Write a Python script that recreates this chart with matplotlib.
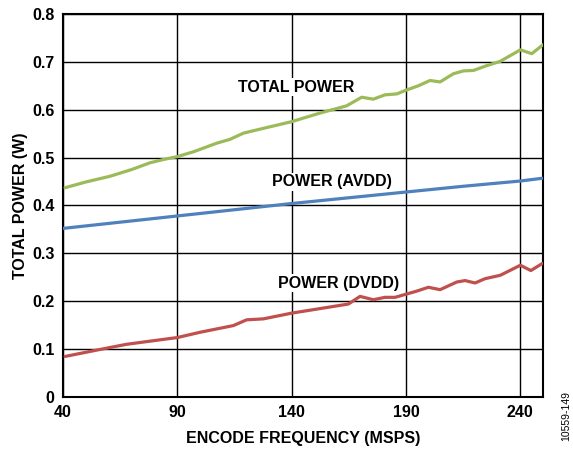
import matplotlib
matplotlib.use("Agg")
import matplotlib.pyplot as plt
import numpy as np

plt.rcParams['font.family'] = ['Liberation Sans', 'DejaVu Sans']

# Data
total_x = [40.9, 50, 60.6, 70, 78, 84, 90, 97, 107.2, 113, 118.9, 127.6, 140, 152.4, 164, 170.6,
           175.7, 180.8, 186, 189.6, 195.4, 200.5, 204.9, 210.7, 215.1, 219.5, 225.3, 231.2,
           240, 245, 250]
total_y = [0.437, 0.449, 0.461, 0.475, 0.489, 0.496, 0.502, 0.512, 0.530, 0.538, 0.551, 0.561,
           0.575, 0.593, 0.608, 0.626, 0.622, 0.631, 0.633, 0.640, 0.650, 0.661, 0.658, 0.675,
           0.681, 0.682, 0.692, 0.701, 0.725, 0.717, 0.736]

avdd_x = [40, 65, 90, 115, 140, 165, 190, 215, 240, 250]
avdd_y = [0.352, 0.365, 0.378, 0.391, 0.404, 0.416, 0.428, 0.440, 0.451, 0.457]

dvdd_x = [40.9, 53.3, 67.9, 90, 99.9, 114.5, 120.3, 127.6, 140, 164.8, 169.9, 175.7, 180.8,
          185.2, 194.7, 199.8, 204.9, 212.2, 215.8, 220.2, 224.6, 231.2, 240, 244.6, 249.7]
dvdd_y = [0.0845, 0.0964, 0.110, 0.124, 0.135, 0.149, 0.161, 0.163, 0.175, 0.194, 0.210, 0.203,
          0.208, 0.208, 0.221, 0.229, 0.224, 0.240, 0.243, 0.238, 0.247, 0.254, 0.275, 0.264, 0.279]

x_ticks = [40, 90, 140, 190, 240]
y_ticks = [0, 0.1, 0.2, 0.3, 0.4, 0.5, 0.6, 0.7, 0.8]
y_tick_labels = ['0', '0.1', '0.2', '0.3', '0.4', '0.5', '0.6', '0.7', '0.8']

fig = plt.figure(figsize=(5.73, 4.5), dpi=100)
ax = fig.add_axes([0.110, 0.118, 0.838, 0.851])

for xs, ys, c in [(total_x, total_y, '#9BBB59'), (avdd_x, avdd_y, '#4F81BD'), (dvdd_x, dvdd_y, '#C0504D')]:
    ax.plot(xs, ys, color=c, lw=2.3, solid_capstyle='round', solid_joinstyle='round', zorder=3)

ax.set_xlim(40, 250)
ax.set_ylim(0, 0.8)
ax.set_xticks(x_ticks)
ax.set_yticks(y_ticks)
ax.set_yticklabels(y_tick_labels)
ax.grid(True, color='black', lw=1.0, zorder=1)
ax.set_axisbelow(True)
ax.tick_params(length=0, labelsize=11.5, pad=6)
for lab in ax.get_xticklabels() + ax.get_yticklabels():
    lab.set_fontweight('bold')
for sp in ax.spines.values():
    sp.set_linewidth(1.5)

ax.set_xlabel('ENCODE FREQUENCY (MSPS)', fontsize=11.5, fontweight='bold', labelpad=8)
ax.set_ylabel('TOTAL POWER (W)', fontsize=11.5, fontweight='bold', labelpad=3)

bbox = dict(facecolor='white', edgecolor='none', pad=1)
ax.text(141.9, 0.647, 'TOTAL POWER', fontsize=11.5, fontweight='bold', ha='center', va='center', bbox=bbox, zorder=2)
ax.text(157.7, 0.449, 'POWER (AVDD)', fontsize=11.5, fontweight='bold', ha='center', va='center', bbox=bbox, zorder=2)
ax.text(160.3, 0.2376, 'POWER (DVDD)', fontsize=11.5, fontweight='bold', ha='center', va='center', bbox=bbox, zorder=2)

fig.text(0.988, 0.075, '10559-149', rotation=90, fontsize=7.5, ha='center', va='center')

fig.savefig('out.png', dpi=100)
